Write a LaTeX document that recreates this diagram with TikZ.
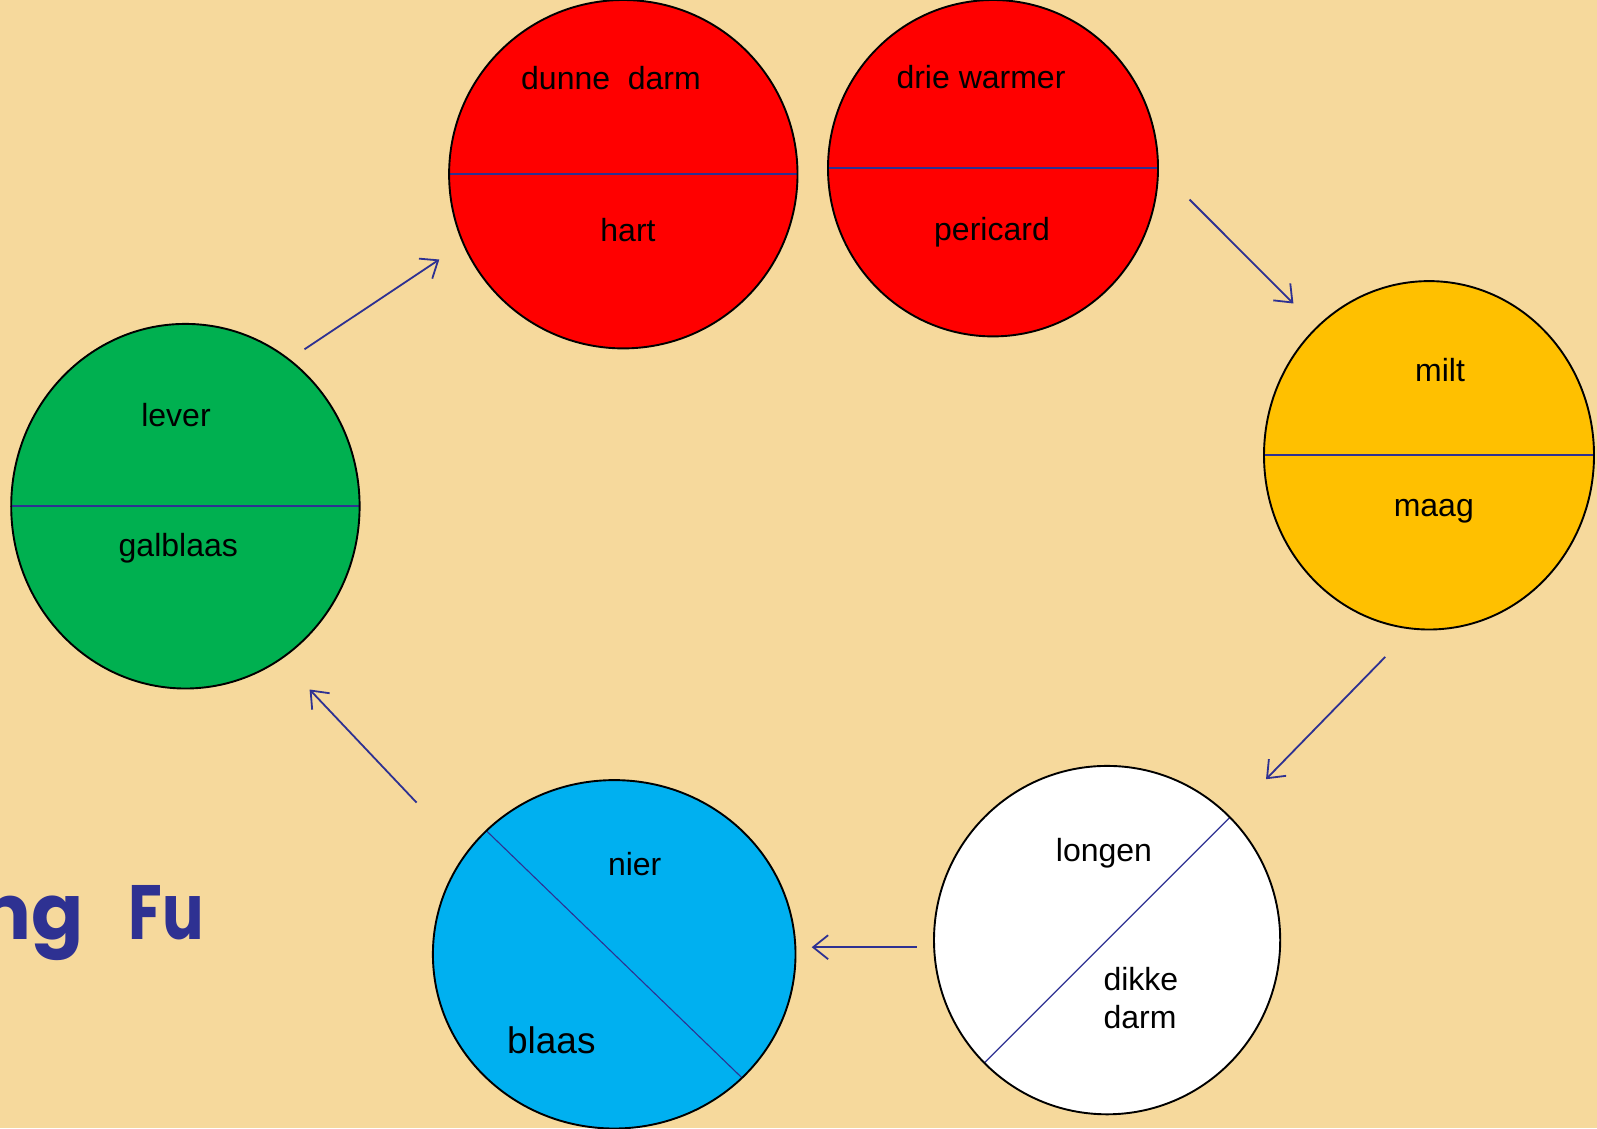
\documentclass[tikz,border=0pt]{standalone}
\usepackage{fontspec}
\setmainfont{Liberation Sans}
\newfontfamily\titlefont{Poppins}
\usetikzlibrary{arrows.meta}
\definecolor{bg}{HTML}{F6D99C}
\definecolor{dblue}{HTML}{2E3192}
\definecolor{cred}{HTML}{FF0000}
\definecolor{cgreen}{HTML}{00B050}
\definecolor{cyellow}{HTML}{FFC000}
\definecolor{cblue}{HTML}{00B0F0}
\tikzset{
  lbl/.style={font=\fontsize{32bp}{38bp}\selectfont, inner sep=0pt, anchor=base, text=black},
  outline/.style={draw=black, line width=1.9bp},
  divline/.style={draw=dblue, line width=1.7bp},
  thindiv/.style={draw=dblue, line width=1.1bp},
  arr/.style={draw=dblue, line width=1.8bp, -{Straight Barb[length=15bp,width=24bp,line width=1.8bp]}},
  titlestyle/.style={font=\titlefont\bfseries\fontsize{77bp}{80bp}\selectfont, text=dblue, inner sep=0pt}
}
\begin{document}
\begin{tikzpicture}[x=1bp,y=-1bp]
\useasboundingbox (0,0) rectangle (1597,1128);
\clip (0,0) rectangle (1597,1128);
\fill[bg] (0,0) rectangle (1597,1128);

% centres
\coordinate (cGreen) at (185.4,506.2);
\coordinate (cRedA) at (623.3,174.2);
\coordinate (cRedB) at (993,168.2);
\coordinate (cYellow) at (1429,455.3);
\coordinate (cWhite) at (1107.1,940.1);
\coordinate (cBlue) at (614.2,954.3);

% green
\fill[cgreen] (cGreen) ellipse [x radius=174.2bp, y radius=182.3bp];
\begin{scope}\clip (cGreen) ellipse [x radius=174.2bp, y radius=182.3bp];
\draw[divline] ([xshift=-250bp]cGreen) -- ([xshift=250bp]cGreen);\end{scope}
\draw[outline] (cGreen) ellipse [x radius=174.2bp, y radius=182.3bp];

% red A
\fill[cred] (cRedA) ellipse [x radius=174.2bp, y radius=174.2bp];
\begin{scope}\clip (cRedA) ellipse [x radius=174.2bp, y radius=174.2bp];
\draw[divline] ([xshift=-250bp]cRedA) -- ([xshift=250bp]cRedA);\end{scope}
\draw[outline] (cRedA) ellipse [x radius=174.2bp, y radius=174.2bp];

% red B
\fill[cred] (cRedB) ellipse [x radius=165bp, y radius=168.2bp];
\begin{scope}\clip (cRedB) ellipse [x radius=165bp, y radius=168.2bp];
\draw[divline] ([xshift=-250bp]cRedB) -- ([xshift=250bp]cRedB);\end{scope}
\draw[outline] (cRedB) ellipse [x radius=165bp, y radius=168.2bp];

% yellow
\fill[cyellow] (cYellow) ellipse [x radius=165bp, y radius=174.2bp];
\begin{scope}\clip (cYellow) ellipse [x radius=165bp, y radius=174.2bp];
\draw[divline] ([xshift=-250bp]cYellow) -- ([xshift=250bp]cYellow);\end{scope}
\draw[outline] (cYellow) ellipse [x radius=165bp, y radius=174.2bp];

% white
\fill[white] (cWhite) ellipse [x radius=173.1bp, y radius=174.2bp];
\begin{scope}\clip (cWhite) ellipse [x radius=173.1bp, y radius=174.2bp];
\draw[thindiv] ([shift={(-300bp,-300bp)}]cWhite) -- ([shift={(300bp,300bp)}]cWhite);\end{scope}
\draw[outline] (cWhite) ellipse [x radius=173.1bp, y radius=174.2bp];

% blue
\fill[cblue] (cBlue) ellipse [x radius=181.3bp, y radius=174.2bp];
\begin{scope}\clip (cBlue) ellipse [x radius=181.3bp, y radius=174.2bp];
\draw[thindiv] ([shift={(-300bp,290bp)}]cBlue) -- ([shift={(300bp,-290bp)}]cBlue);\end{scope}
\draw[outline] (cBlue) ellipse [x radius=181.3bp, y radius=174.2bp];

% labels
\node[lbl] (dunne) at (611,89.3) {dunne\ \ darm};
\node[lbl] (hart) at (628,241.7) {hart};
\node[lbl] (drie) at (981,88.3) {drie warmer};
\node[lbl] (peri) at (992,240) {pericard};
\node[lbl] (milt) at (1440,381.7) {milt};
\node[lbl] (maag) at (1433.8,516.7) {maag};
\node[lbl] (lever) at (176,426) {lever};
\node[lbl] (gal) at (178.3,556.7) {galblaas};
\node[lbl] (longen) at (1104,861.7) {longen};
\node[lbl, anchor=base west] (dikke) at (1103.3,990) {dikke};
\node[lbl, anchor=base west] (darmB) at (1103.3,1028.3) {darm};
\node[lbl] (nier) at (634.7,875) {nier};
\node[lbl, font=\fontsize{37bp}{44bp}\selectfont] (blaas) at (551.3,1053.3) {blaas};

% title fragment (cut off at the left edge, as in the original)
\node[titlestyle, anchor=base east] (title) at (204,939) {ng\hspace{45bp}\scalebox{0.8}[1]{Fu}};

% arrows
\coordinate (a1s) at (304.5,349.3); \coordinate (a1e) at (439.3,259.5);
\coordinate (a2s) at (1189.6,199.6); \coordinate (a2e) at (1293.4,303.5);
\coordinate (a3s) at (1385.2,656.9); \coordinate (a3e) at (1266,779.2);
\coordinate (a4s) at (916.7,947.2); \coordinate (a4e) at (811.7,947.2);
\coordinate (a5s) at (416.6,802.6); \coordinate (a5e) at (309.6,689.5);
\draw[arr] (a1s) -- (a1e);
\draw[arr] (a2s) -- (a2e);
\draw[arr] (a3s) -- (a3e);
\draw[arr] (a4s) -- (a4e);
\draw[arr] (a5s) -- (a5e);
\end{tikzpicture}
\end{document}
